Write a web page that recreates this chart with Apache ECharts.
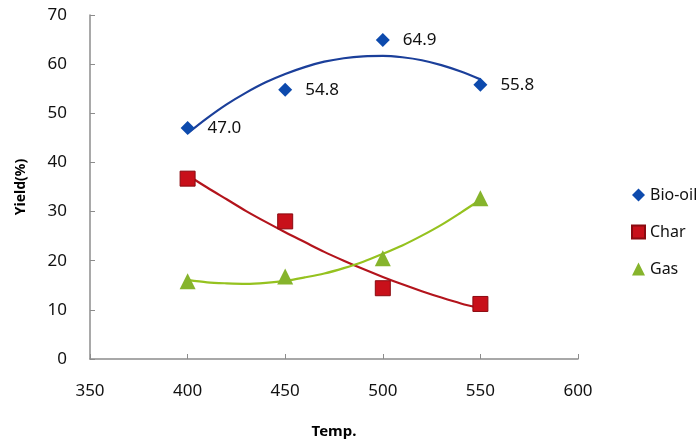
<!DOCTYPE html>
<html>
<head>
<meta charset="utf-8">
<script src="https://cdn.jsdelivr.net/npm/echarts@6/dist/echarts.min.js"></script>
<style>html,body{margin:0;padding:0;background:#fff;}#c{width:696px;height:444px;}</style>
</head>
<body>
<div id="c"></div>
<script>
// Measured points
var temps = [400, 450, 500, 550];
var bioOil = [47.0, 54.8, 64.9, 55.8];
var charY = [36.7, 28.0, 14.4, 11.2];
var gasY = [15.8, 16.8, 20.5, 32.7];
// Trend curves
var trendX = [400, 410, 420, 430, 440, 450, 460, 470, 480, 490, 500, 510, 520, 530, 540, 550];
var bioTrend = [45.9, 49.0, 51.8, 54.2, 56.3, 58.0, 59.4, 60.5, 61.2, 61.6, 61.7, 61.4, 60.8, 59.8, 58.5, 56.9];
var charTrend = [37.4, 34.9, 32.5, 30.1, 27.9, 25.8, 23.8, 21.8, 20.0, 18.3, 16.7, 15.2, 13.8, 12.5, 11.3, 10.3];
var gasTrend = [16.1, 15.6, 15.4, 15.3, 15.5, 15.9, 16.6, 17.4, 18.5, 19.8, 21.4, 23.1, 25.1, 27.3, 29.8, 32.4];
// Axis ticks
var xMin = 350, xMax = 600, xStep = 50;
var yMin = 0, yMax = 70, yStep = 10;

function pairs(xs, ys) { return xs.map(function (x, i) { return [x, ys[i]]; }); }

var FONT = '"Noto Sans", "DejaVu Sans", sans-serif';
var chart = echarts.init(document.getElementById('c'));
chart.setOption({
  backgroundColor: '#fff',
  animation: false,
  grid: { left: 90, right: 118, top: 15, bottom: 84 },
  legend: {
    orient: 'vertical', left: 626, top: 182, itemGap: 21,
    itemWidth: 13, itemHeight: 13,
    textStyle: { fontFamily: FONT, fontSize: 16, color: '#111' },
    data: [
      { name: 'Bio-oil', icon: 'diamond' },
      { name: 'Char', icon: 'rect' },
      { name: 'Gas', icon: 'triangle' }
    ]
  },
  xAxis: {
    type: 'value', min: xMin, max: xMax, interval: xStep,
    name: 'Temp.', nameLocation: 'middle', nameGap: 65,
    nameTextStyle: { fontFamily: FONT, fontSize: 15, fontWeight: 'bold', color: '#000' },
    axisLine: { show: true, lineStyle: { color: '#8c8c8c', width: 1.5 } },
    axisTick: { show: true, inside: true, length: 5, lineStyle: { color: '#8c8c8c' } },
    axisLabel: { margin: 24, fontFamily: FONT, fontSize: 17, color: '#111' },
    splitLine: { show: false }
  },
  yAxis: {
    type: 'value', min: yMin, max: yMax, interval: yStep,
    name: 'Yield(%)', nameLocation: 'middle', nameGap: 62, nameRotate: 90,
    nameTextStyle: { fontFamily: FONT, fontSize: 14, fontWeight: 'bold', color: '#000' },
    axisLine: { show: true, lineStyle: { color: '#8c8c8c', width: 1.5 } },
    axisTick: { show: true, inside: true, length: 5, lineStyle: { color: '#8c8c8c' } },
    axisLabel: { margin: 23, fontFamily: FONT, fontSize: 17, color: '#111' },
    splitLine: { show: false }
  },
  series: [
    { name: 'bioTrend', type: 'line', data: pairs(trendX, bioTrend), smooth: 0.3, showSymbol: false, symbol: 'none',
      lineStyle: { color: '#1b3f9a', width: 2.2 }, z: 2 },
    { name: 'charTrend', type: 'line', data: pairs(trendX, charTrend), smooth: 0.3, showSymbol: false, symbol: 'none',
      lineStyle: { color: '#b3141c', width: 2.2 }, z: 2 },
    { name: 'gasTrend', type: 'line', data: pairs(trendX, gasTrend), smooth: 0.3, showSymbol: false, symbol: 'none',
      lineStyle: { color: '#95c21f', width: 2.2 }, z: 2 },
    { name: 'Bio-oil', type: 'scatter', data: pairs(temps, bioOil), symbol: 'diamond', symbolSize: 14,
      itemStyle: { color: '#0d4aad', opacity: 1 }, z: 3,
      label: { show: true, position: 'right', distance: 13, fontFamily: FONT, fontSize: 17, color: '#111',
        formatter: function (p) { return p.value[1].toFixed(1); } } },
    { name: 'Char', type: 'scatter', data: pairs(temps, charY), symbol: 'rect', symbolSize: 15,
      itemStyle: { color: '#c8101a', borderColor: '#8a0a10', borderWidth: 1, opacity: 1 }, z: 3 },
    { name: 'Gas', type: 'scatter', data: pairs(temps, gasY), symbol: 'triangle', symbolSize: 16,
      itemStyle: { color: '#86b42c', opacity: 1 }, z: 3 }
  ]
});
</script>
</body>
</html>
